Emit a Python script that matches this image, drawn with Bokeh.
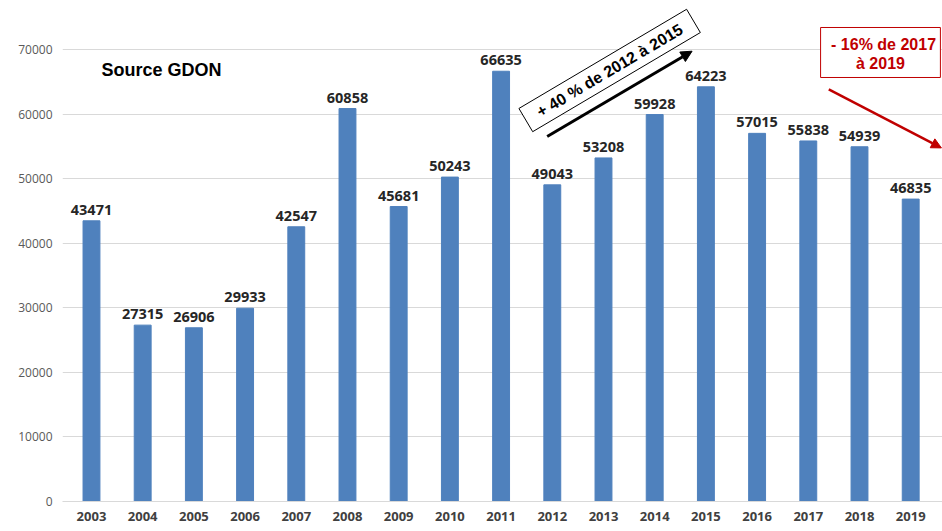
from bokeh.plotting import figure
from bokeh.models import (Range1d, FixedTicker, NumeralTickFormatter, Label, Arrow,
                          NormalHead, BoxAnnotation, ColumnDataSource)
from bokeh.core.properties import value
from bokeh.embed import file_html
from bokeh.resources import INLINE

years = [2003, 2004, 2005, 2006, 2007, 2008, 2009, 2010, 2011, 2012,
         2013, 2014, 2015, 2016, 2017, 2018, 2019]
counts = [43471, 27315, 26906, 29933, 42547, 60858, 45681, 50243, 66635,
          49043, 53208, 59928, 64223, 57015, 55838, 54939, 46835]
y_ticks = [0, 10000, 20000, 30000, 40000, 50000, 60000, 70000]
source_text = "Source GDON"
rise_text = "+ 40 % de 2012 à 2015"
drop_lines = ["- 16% de 2017", "à 2019"]

src = ColumnDataSource(dict(year=years, count=counts, label=[str(c) for c in counts]))

p = figure(frame_width=880, frame_height=501, output_backend="svg", toolbar_location=None,
           x_range=Range1d(2002.434, 2019.621), y_range=Range1d(0, 77590),
           min_border_left=62, min_border_right=0, min_border_top=0, min_border_bottom=0,
           background_fill_color="white", border_fill_color="white")
p.outline_line_color = None

p.vbar(x="year", top="count", width=0.33, source=src, color="#4F81BD")
p.text(x="year", y="count", text="label", source=src, text_align="center",
       text_baseline="alphabetic", y_offset=-11, text_font=value("Open Sans"),
       text_font_style="bold", text_font_size="14.5px", text_color="#262626")

# axes
p.xaxis.ticker = FixedTicker(ticks=years)
p.xaxis.major_tick_line_color = None
p.xaxis.minor_tick_line_color = None
p.xaxis.major_tick_out = 0
p.xaxis.axis_line_color = "#d9d9d9"
p.xaxis.major_label_standoff = 10
p.xaxis.major_label_text_font = "Open Sans"
p.xaxis.major_label_text_font_style = "bold"
p.xaxis.major_label_text_font_size = "13px"
p.xaxis.major_label_text_color = "#404040"

p.yaxis.ticker = FixedTicker(ticks=y_ticks)
p.yaxis.formatter = NumeralTickFormatter(format="0")
p.yaxis.major_tick_line_color = None
p.yaxis.minor_tick_line_color = None
p.yaxis.major_tick_out = 0
p.yaxis.axis_line_color = None
p.yaxis.major_label_standoff = 10
p.yaxis.major_label_text_font = "Open Sans"
p.yaxis.major_label_text_font_size = "12px"
p.yaxis.major_label_text_color = "#595959"

p.xgrid.visible = False
p.ygrid.ticker = FixedTicker(ticks=y_ticks)
p.ygrid.grid_line_color = "#d9d9d9"

# annotations
p.add_layout(Label(x=2003.196, y=66750, text=source_text, text_align="left",
                   text_baseline="middle", text_font="Liberation Sans",
                   text_font_style="bold", text_font_size="18px", text_color="black"))

p.add_layout(Arrow(x_start=2011.90, y_start=56530, x_end=2014.73, y_end=69740,
                   line_color="black", line_width=3,
                   end=NormalHead(size=11, fill_color="black", line_color="black")))

p.add_layout(Label(x=2013.12, y=66750, text=rise_text, angle=30.6, angle_units="deg",
                   text_align="center", text_baseline="middle",
                   text_font="Liberation Sans", text_font_style="bold",
                   text_font_size="16px", text_color="black",
                   background_fill_color="white", border_line_color="black",
                   border_line_width=1, padding=dict(x=14, y=5)))

p.add_layout(BoxAnnotation(left=2017.24, right=2019.58, top=73410, bottom=65665,
                           fill_color="white", fill_alpha=1.0,
                           line_color="#C00000", line_alpha=1.0, line_width=1))
p.add_layout(Label(x=2018.47, y=70776, text=drop_lines[0], text_align="center",
                   text_baseline="middle", text_font="Liberation Sans",
                   text_font_style="bold", text_font_size="16px", text_color="#C00000"))
p.add_layout(Label(x=2018.41, y=67880, text=drop_lines[1], text_align="center",
                   text_baseline="middle", text_font="Liberation Sans",
                   text_font_style="bold", text_font_size="16px", text_color="#C00000"))

p.add_layout(Arrow(x_start=2017.40, y_start=63810, x_end=2019.60, y_end=54760,
                   line_color="#C00000", line_width=2.5,
                   end=NormalHead(size=10, fill_color="#C00000", line_color="#C00000")))

open("out.html", "w").write(file_html(p, INLINE))
